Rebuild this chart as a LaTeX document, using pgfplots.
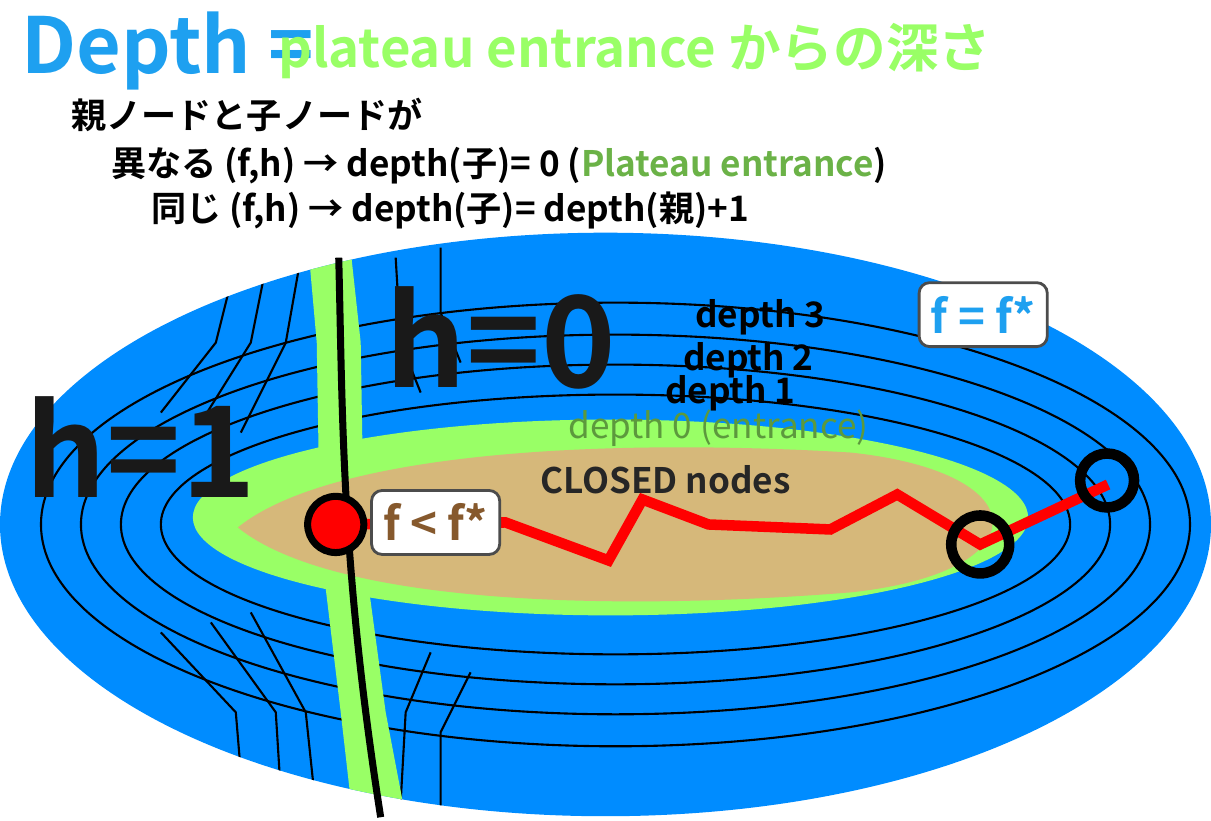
\documentclass[border=0pt]{standalone}
\usepackage{pgfplots}
\pgfplotsset{compat=1.18}
\usepackage{fontspec}
\setmainfont{Noto Sans CJK JP}[BoldFont={* Bold}]
\definecolor{bl}{RGB}{0,140,255}
\definecolor{gr}{RGB}{153,255,102}
\definecolor{tan}{RGB}{214,184,122}
\definecolor{tb}{RGB}{30,160,240}
\begin{document}
\begin{tikzpicture}
\begin{axis}[scale only axis,width=12.11cm,height=8.05cm,xmin=0,xmax=1211,ymin=0,ymax=805,
 y dir=reverse,axis lines=none,clip=false]
\fill[bl] (axis cs:605,512) ellipse [x radius=606,y radius=292];
\begin{scope}
\clip (axis cs:605,512) ellipse [x radius=606,y radius=292];
\draw[black,line width=0.6pt] (axis cs:615,512) ellipse [x radius=455,y radius=130];
\draw[black,line width=0.6pt] (axis cs:615,512) ellipse [x radius=495,y radius=160];
\draw[black,line width=0.6pt] (axis cs:615,512) ellipse [x radius=535,y radius=190];
\draw[black,line width=0.6pt] (axis cs:615,512) ellipse [x radius=575,y radius=222];
\draw[black,line width=0.6pt] (axis cs:230,270)--(axis cs:215,330)--(axis cs:160,400);
\draw[black,line width=0.6pt] (axis cs:265,255)--(axis cs:250,330)--(axis cs:200,410);
\draw[black,line width=0.6pt] (axis cs:300,245)--(axis cs:285,330)--(axis cs:240,420);
\draw[black,line width=0.6pt] (axis cs:240,760)--(axis cs:235,700)--(axis cs:160,620);
\draw[black,line width=0.6pt] (axis cs:280,780)--(axis cs:275,700)--(axis cs:210,610);
\draw[black,line width=0.6pt] (axis cs:315,795)--(axis cs:305,700)--(axis cs:250,600);
\draw[black,line width=0.6pt] (axis cs:395,245)--(axis cs:400,330)--(axis cs:420,380);
\draw[black,line width=0.6pt] (axis cs:440,235)--(axis cs:440,300)--(axis cs:460,350);
\draw[black,line width=0.6pt] (axis cs:400,790)--(axis cs:405,700)--(axis cs:430,640);
\draw[black,line width=0.6pt] (axis cs:440,800)--(axis cs:440,720)--(axis cs:470,660);
\fill[gr] (axis cs:308,240)--(axis cs:316,330)--(axis cs:318,450)--(axis cs:323,560)--(axis cs:340,700)--(axis cs:352,805)
 --(axis cs:405,805)--(axis cs:385,700)--(axis cs:366,560)--(axis cs:362,450)--(axis cs:360,330)--(axis cs:350,238)--cycle;
\end{scope}
\fill[gr] (axis cs:610,505) ellipse [x radius=418,y radius=98];
\fill[tan] (axis cs:237,515) .. controls (axis cs:330,440) and (axis cs:600,425) .. (axis cs:850,440)
 .. controls (axis cs:1040,460) and (axis cs:1040,560) .. (axis cs:850,580)
 .. controls (axis cs:600,600) and (axis cs:330,590) .. cycle;
\draw[black,line width=2pt] (axis cs:338,245)..controls (axis cs:342,400) and (axis cs:340,550)..(axis cs:380,805);
\addplot[red,line width=3pt,mark=none] coordinates {(335,512)(505,510)(608,548)(642,487)(708,512)(830,517)(897,482)(980,532)(1108,472)};
\addplot[only marks,mark=*,mark size=8pt,mark options={fill=red,draw=black,line width=2pt}] coordinates {(335,512)};
\draw[black,line width=3pt] (axis cs:980,532) circle [radius=29];
\draw[black,line width=3pt] (axis cs:1107,468) circle [radius=27];
\node[font=\bfseries\fontsize{22}{24}\selectfont,text=tb,anchor=west] at (axis cs:8,38) {Depth =};
\node[font=\bfseries\fontsize{15}{18}\selectfont,text=gr,anchor=west] at (axis cs:265,38) {plateau entrance からの深さ};
\node[font=\bfseries\fontsize{10}{12}\selectfont,anchor=west] at (axis cs:58,102) {親ノードと子ノードが};
\node[font=\bfseries\fontsize{10}{12}\selectfont,anchor=west] at (axis cs:98,153) {異なる (f,h) → depth(子)= 0 (\textcolor{gr!70!black}{Plateau entrance})};
\node[font=\bfseries\fontsize{10}{12}\selectfont,anchor=west] at (axis cs:138,198) {同じ (f,h) → depth(子)= depth(親)+1};
\node[font=\bfseries\fontsize{36}{40}\selectfont,text=black!90] at (axis cs:500,325) {h=0};
\node[font=\bfseries\fontsize{36}{40}\selectfont,text=black!90] at (axis cs:140,435) {h=1};
\node[font=\bfseries\fontsize{10}{12}\selectfont] at (axis cs:760,305) {depth 3};
\node[font=\bfseries\fontsize{10}{12}\selectfont] at (axis cs:748,348) {depth 2};
\node[font=\bfseries\fontsize{10}{12}\selectfont] at (axis cs:730,381) {depth 1};
\node[font=\fontsize{10}{12}\selectfont,text=gr!60!black] at (axis cs:718,416) {depth 0 (entrance)};
\node[font=\bfseries\fontsize{10}{12}\selectfont,text=black!85] at (axis cs:665,467) {CLOSED nodes};
\node[draw=black!70,fill=white,rounded corners=3pt,line width=0.8pt,font=\bfseries\fontsize{13}{15}\selectfont,text=tb,minimum height=0.64cm] at (axis cs:983,302) {f = f*};
\node[draw=black!70,fill=white,rounded corners=3pt,line width=0.8pt,font=\bfseries\fontsize{13}{15}\selectfont,text=brown!70!black,minimum height=0.64cm] at (axis cs:435,510) {f < f*};
\end{axis}
\end{tikzpicture}
\end{document}
